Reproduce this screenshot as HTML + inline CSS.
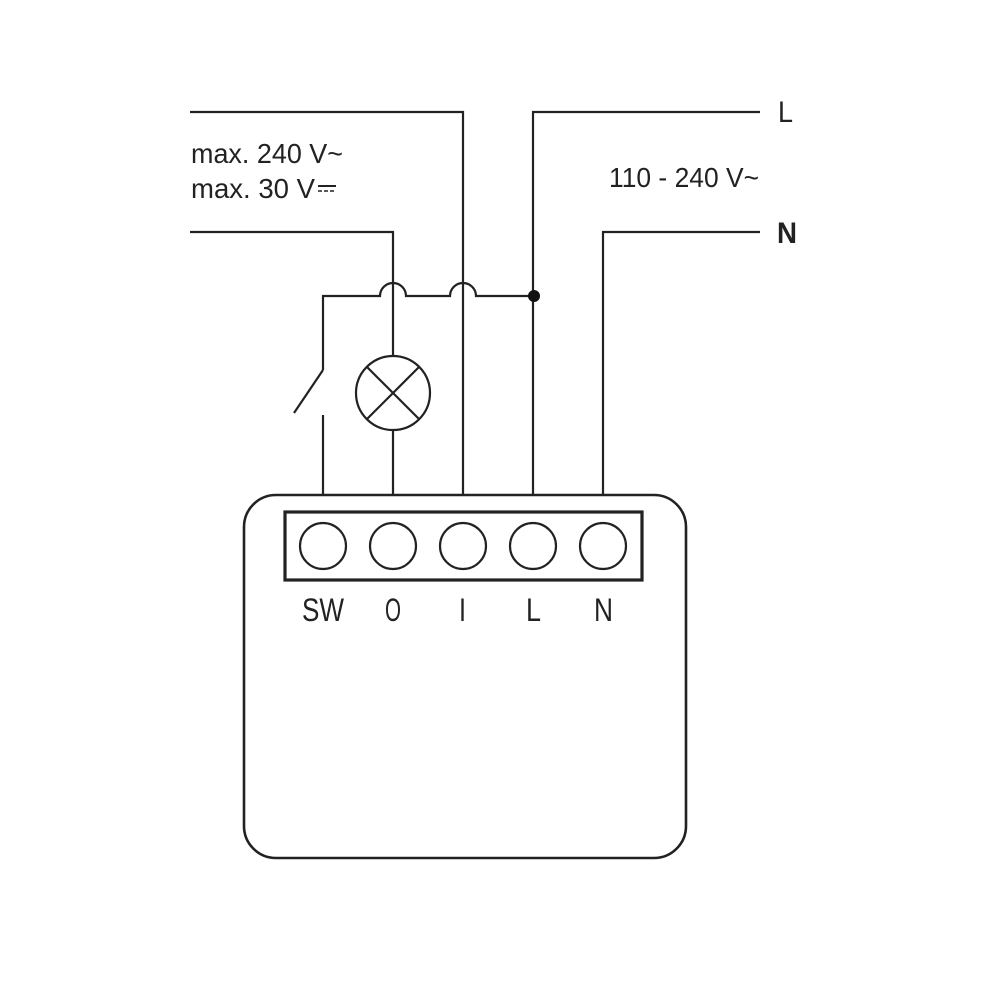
<!DOCTYPE html>
<html><head><meta charset="utf-8"><style>
html,body{margin:0;padding:0;background:#fff;}
svg{display:block}
text{font-family:"Liberation Sans",sans-serif;fill:#222}
</style></head><body>
<svg width="1000" height="1000" viewBox="0 0 1000 1000" xmlns="http://www.w3.org/2000/svg">
<g fill="none" stroke="#222" stroke-width="2.2">
<polyline points="190,112 463,112 463,495"/>
<polyline points="760,112 533,112 533,495"/>
<polyline points="760,232 603,232 603,495"/>
<polyline points="190,232 393,232 393,355"/>
<line x1="393" y1="430" x2="393" y2="495"/>
<path d="M323,370 L323,296 L380,296 A13,13 0 0 1 406,296 L450,296 A13,13 0 0 1 476,296 L533,296"/>
<line x1="323" y1="370" x2="294" y2="413"/>
<line x1="323" y1="415" x2="323" y2="495"/>
<circle cx="393" cy="393" r="37"/>
<line x1="367" y1="367" x2="419" y2="419"/>
<line x1="419" y1="367" x2="367" y2="419"/>
<rect x="244" y="495" width="442" height="363" rx="32" stroke-width="2.6"/>
<rect x="285" y="512" width="357" height="68" stroke-width="3.2"/>
<circle cx="323" cy="546" r="23"/>
<circle cx="393" cy="546" r="23"/>
<circle cx="463" cy="546" r="23"/>
<circle cx="533" cy="546" r="23"/>
<circle cx="603" cy="546" r="23"/>
</g>
<circle cx="534" cy="296" r="6" fill="#111"/>
<text x="191" y="163" font-size="28" textLength="152" lengthAdjust="spacingAndGlyphs">max. 240 V~</text>
<text x="191" y="198" font-size="28" textLength="124" lengthAdjust="spacingAndGlyphs">max. 30 V</text>
<line x1="318" y1="186" x2="336" y2="186" stroke="#222" stroke-width="2"/>
<line x1="318" y1="191" x2="336" y2="191" stroke="#222" stroke-width="1.5" stroke-dasharray="4,2"/>
<text x="609" y="187" font-size="28" textLength="150" lengthAdjust="spacingAndGlyphs">110 - 240 V~</text>
<text x="778" y="122" font-size="30" textLength="15" lengthAdjust="spacingAndGlyphs">L</text>
<text x="777" y="243" font-size="30" font-weight="bold" textLength="20" lengthAdjust="spacingAndGlyphs">N</text>
<text x="302" y="621" font-size="32" textLength="42" lengthAdjust="spacingAndGlyphs">SW</text>
<text x="385" y="621" font-size="32" textLength="16" lengthAdjust="spacingAndGlyphs">O</text>
<text x="459" y="621" font-size="32" textLength="7" lengthAdjust="spacingAndGlyphs">I</text>
<text x="526" y="621" font-size="32" textLength="15" lengthAdjust="spacingAndGlyphs">L</text>
<text x="594" y="621" font-size="32" textLength="19" lengthAdjust="spacingAndGlyphs">N</text>
</svg>
</body></html>
